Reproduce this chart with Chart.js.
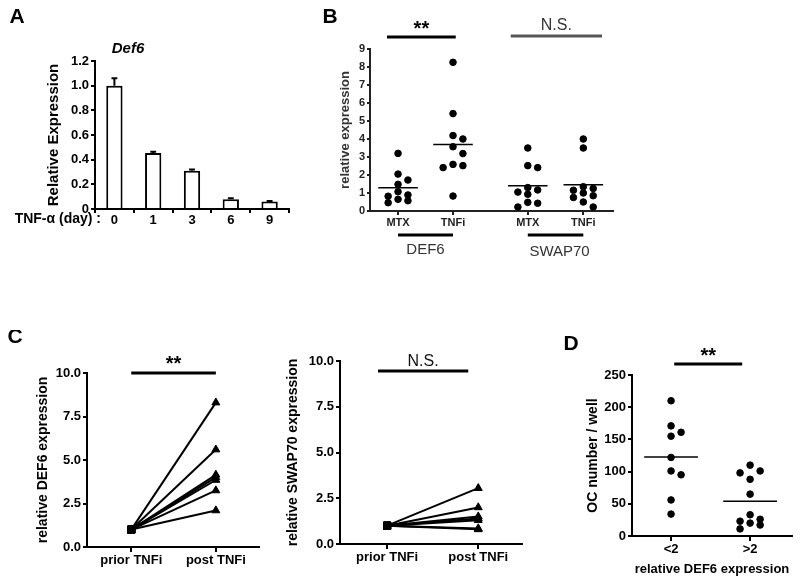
<!DOCTYPE html>
<html lang="en">
<head>
<meta charset="UTF-8">
<title>DEF6 figure</title>
<script src="https://cdn.jsdelivr.net/npm/chart.js"></script>
<style>
  body { margin: 0; background: #fff; }
  #wrap { position: relative; width: 800px; height: 583px; overflow: hidden; }
  canvas { position: absolute; }
</style>
</head>
<body>
<div id="wrap">
  <canvas id="chartA" width="300" height="240" style="left:0;top:0"></canvas>
  <canvas id="chartB" width="330" height="270" style="left:300px;top:0"></canvas>
  <canvas id="chartC1" width="265" height="253" style="left:0;top:330px"></canvas>
  <canvas id="chartC2" width="275" height="253" style="left:265px;top:330px"></canvas>
  <canvas id="chartD" width="240" height="253" style="left:560px;top:330px"></canvas>
</div>

<script>
  // ---- data ----
  // A: Def6 after TNF-alpha stimulation
  var days = ['0', '1', '3', '6', '9'];
  var def6Time = [1.0, 0.455, 0.31, 0.08, 0.06];
  var def6TimeErr = [0.06, 0.01, 0.01, 0.008, 0.004];

  // B: relative expression per patient
  var bGroups = ['MTX', 'TNFi', 'MTX', 'TNFi'];
  var def6Mtx = [3.2, 2.05, 1.72, 1.48, 1.07, 0.89, 0.82, 0.65, 0.57, 0.46];
  var def6Tnfi = [8.26, 5.41, 4.19, 4.0, 3.57, 3.19, 2.59, 2.52, 2.41, 0.83];
  var swap70Mtx = [3.5, 2.52, 2.41, 1.3, 1.17, 1.05, 0.93, 0.48, 0.43, 0.22];
  var swap70Tnfi = [4.0, 3.5, 1.35, 1.25, 1.15, 1.0, 0.85, 0.75, 0.5, 0.22];

  // C: paired prior / post TNFi
  var cLabels = ['prior TNFi', 'post TNFi'];
  var def6Prior = [1, 1, 1, 1, 1, 1, 1];
  var def6Post = [8.3, 5.6, 4.15, 4.0, 3.85, 3.25, 2.1];
  var swap70Prior = [1, 1, 1, 1, 1, 1, 1];
  var swap70Post = [3.05, 2.0, 1.5, 1.4, 1.3, 0.85, 0.8];

  // D: osteoclasts per well by DEF6 level
  var dLabels = ['<2', '>2'];
  var ocLow = [210, 171, 161, 155, 122, 101, 95, 56, 34];
  var ocHigh = [110, 101, 98, 88, 65, 33, 26, 23, 20, 17, 11];

  // ---- helpers ----
  var FAMILY = '"Liberation Sans", Arial, sans-serif';
  Chart.defaults.font.family = FAMILY;
  Chart.defaults.color = '#000';

  function mean(a) {
    return a.reduce(function (s, v) { return s + v; }, 0) / a.length;
  }

  // simple beeswarm: spread close values into side columns
  function swarm(values, center, step, minGap) {
    var order = values.map(function (v, i) { return i; })
      .sort(function (a, b) { return values[b] - values[a]; });
    var slots = [0, 1, -1];
    var placed = [];
    order.forEach(function (i) {
      var v = values[i], best = 0, bestGap = -1;
      for (var s = 0; s < slots.length; s++) {
        var gap = Infinity;
        placed.forEach(function (p) {
          if (p.slot === slots[s]) gap = Math.min(gap, Math.abs(p.y - v));
        });
        if (gap >= minGap) { best = slots[s]; break; }
        if (gap > bestGap) { bestGap = gap; best = slots[s]; }
      }
      placed.push({ slot: best, y: v });
    });
    return placed.map(function (p) { return { x: center + p.slot * step, y: p.y }; });
  }

  function dots(values, center, step, gap) {
    return {
      data: swarm(values, center, step, gap),
      pointRadius: 3.3, pointBackgroundColor: '#000', pointBorderColor: '#000',
      pointBorderWidth: 1, showLine: false
    };
  }

  function meanLine(values, center, half) {
    var m = mean(values);
    return {
      type: 'line', data: [{ x: center - half, y: m }, { x: center + half, y: m }],
      borderColor: '#000', borderWidth: 1.5, pointRadius: 0
    };
  }

  function font(size, weight, style) {
    return (style || '') + ' ' + (weight || 'normal') + ' ' + size + 'px ' + FAMILY;
  }

  function text(ctx, str, x, y, f, color, align) {
    ctx.save();
    ctx.font = f;
    ctx.fillStyle = color || '#000';
    ctx.textAlign = align || 'center';
    ctx.textBaseline = 'middle';
    ctx.fillText(str, x, y);
    ctx.restore();
  }

  function hline(ctx, x1, x2, y, w, color) {
    ctx.save();
    ctx.strokeStyle = color || '#000';
    ctx.lineWidth = w;
    ctx.beginPath();
    ctx.moveTo(x1, y);
    ctx.lineTo(x2, y);
    ctx.stroke();
    ctx.restore();
  }

  function extras(draw) {
    return {
      id: 'extras',
      afterDraw: function (chart) {
        draw(chart.ctx, chart.chartArea, chart.scales.x, chart.scales.y);
      }
    };
  }

  function base(pad) {
    return {
      responsive: false, animation: false, events: [],
      layout: { padding: pad },
      plugins: { legend: { display: false }, tooltip: { enabled: false } }
    };
  }

  function yAxis(min, max, step, width, title, titleSize, titlePad, opts) {
    opts = opts || {};
    return {
      min: min, max: max,
      border: { color: opts.color || '#000', width: 2 },
      grid: { drawOnChartArea: false, tickLength: opts.tick || 4, color: opts.color || '#000', lineWidth: 2 },
      ticks: {
        stepSize: step, padding: 2, color: opts.color || '#000',
        font: { size: opts.size || 13, weight: 'bold', lineHeight: 1 },
        callback: opts.format
      },
      title: {
        display: true, text: title, color: opts.titleColor || '#000',
        font: { size: titleSize, weight: 'bold' }, padding: { top: titlePad, bottom: 0 }
      },
      afterFit: function (s) { s.width = width; }
    };
  }

  function xLinear(min, max, pos, labels, height, size, opts) {
    opts = opts || {};
    return {
      type: 'linear', min: min, max: max,
      afterBuildTicks: function (s) { s.ticks = pos.map(function (v) { return { value: v }; }); },
      border: { color: opts.color || '#000', width: 2 },
      grid: { drawOnChartArea: false, tickLength: opts.tick || 5, color: opts.color || '#000', lineWidth: 2 },
      ticks: {
        padding: 2, color: opts.color || '#000',
        font: { size: size, weight: 'bold', lineHeight: 1 },
        callback: function (v, i) { return labels[i]; }
      },
      title: opts.title || { display: false },
      afterFit: function (s) { s.height = height; }
    };
  }

  // ---- A ----
  var errorBars = {
    id: 'errorBars',
    afterDatasetsDraw: function (chart) {
      var ctx = chart.ctx, y = chart.scales.y;
      chart.getDatasetMeta(0).data.forEach(function (bar, i) {
        var top = y.getPixelForValue(def6Time[i] + def6TimeErr[i]);
        var cap = bar.width * 0.18;
        ctx.save();
        ctx.strokeStyle = '#000';
        ctx.lineWidth = 2;
        ctx.beginPath();
        ctx.moveTo(bar.x, bar.y);
        ctx.lineTo(bar.x, top);
        ctx.moveTo(bar.x - cap, top);
        ctx.lineTo(bar.x + cap, top);
        ctx.stroke();
        ctx.restore();
      });
    }
  };

  var optA = base({ top: 61, right: 11, left: 0, bottom: 0 });
  optA.scales = {
    x: {
      border: { color: '#000', width: 2 },
      grid: { drawOnChartArea: false, tickLength: 4, color: '#000', lineWidth: 2 },
      ticks: { padding: 1, color: '#000', font: { size: 13, weight: 'bold', lineHeight: 1 } },
      afterFit: function (s) { s.height = 31; }
    },
    y: yAxis(0, 1.2, 0.2, 95, 'Relative Expression', 15, 45, {
      format: function (v) { return v === 0 ? '0' : v.toFixed(1); }
    })
  };

  new Chart(document.getElementById('chartA'), {
    type: 'bar',
    data: {
      labels: days,
      datasets: [{
        data: def6Time, backgroundColor: '#fff', borderColor: '#000', borderWidth: 2,
        categoryPercentage: 1, barPercentage: 0.42
      }]
    },
    options: optA,
    plugins: [errorBars, extras(function (ctx, area) {
      text(ctx, 'A', 17, 17, font(21, 'bold'));
      text(ctx, 'Def6', 128, 49, font(15, 'bold', 'italic'));
      text(ctx, 'TNF-\u03b1 (day) :', 101, area.bottom + 10, font(14, 'bold'), '#000', 'right');
    })]
  });

  // ---- B ----
  var bPos = [1, 2, 3.36, 4.37];
  var optB = base({ top: 49, right: 17, left: 0, bottom: 0 });
  optB.scales = {
    x: xLinear(0.49, 4.91, bPos, bGroups, 59, 11, { color: '#222', tick: 4 }),
    y: yAxis(0, 9, 1, 70, 'relative expression', 13, 38, {
      size: 11, color: '#222', titleColor: '#333', tick: 3
    })
  };

  new Chart(document.getElementById('chartB'), {
    type: 'scatter',
    data: {
      datasets: [
        dots(def6Mtx, bPos[0], 0.18, 0.4),
        dots(def6Tnfi, bPos[1], 0.18, 0.4),
        dots(swap70Mtx, bPos[2], 0.18, 0.4),
        dots(swap70Tnfi, bPos[3], 0.18, 0.4),
        meanLine(def6Mtx, bPos[0], 0.36),
        meanLine(def6Tnfi, bPos[1], 0.36),
        meanLine(swap70Mtx, bPos[2], 0.36),
        meanLine(swap70Tnfi, bPos[3], 0.36)
      ]
    },
    options: optB,
    plugins: [extras(function (ctx, area, x) {
      text(ctx, 'B', 30, 17, font(21, 'bold'));
      hline(ctx, x.getPixelForValue(0.8), x.getPixelForValue(2.05), area.top - 12, 3, '#000');
      text(ctx, '**', (x.getPixelForValue(0.8) + x.getPixelForValue(2.05)) / 2, area.top - 20, font(20, 'bold'));
      hline(ctx, x.getPixelForValue(3.05), x.getPixelForValue(4.71), area.top - 13, 3, '#555');
      text(ctx, 'N.S.', (x.getPixelForValue(3.05) + x.getPixelForValue(4.71)) / 2, area.top - 23, font(16), '#333');
      hline(ctx, x.getPixelForValue(bPos[0]), x.getPixelForValue(bPos[1]), area.bottom + 24, 3, '#000');
      text(ctx, 'DEF6', (x.getPixelForValue(bPos[0]) + x.getPixelForValue(bPos[1])) / 2, area.bottom + 39, font(15), '#333');
      hline(ctx, x.getPixelForValue(bPos[2]), x.getPixelForValue(bPos[3]), area.bottom + 24, 3, '#000');
      text(ctx, 'SWAP70', (x.getPixelForValue(bPos[2]) + x.getPixelForValue(bPos[3])) / 2 + 4, area.bottom + 41, font(15), '#333');
    })]
  });

  // ---- C ----
  function pairs(prior, post) {
    return prior.map(function (p, i) {
      return {
        data: [{ x: 1, y: p }, { x: 2, y: post[i] }],
        showLine: true, borderColor: '#000', borderWidth: 2,
        pointStyle: ['rect', 'triangle'], pointRadius: [5, 4.6],
        pointBackgroundColor: '#000', pointBorderColor: '#000', pointBorderWidth: 1
      };
    });
  }

  var fmt1 = function (v) { return v.toFixed(1); };

  var optC1 = base({ top: 43, right: 3, left: 0, bottom: 0 });
  optC1.scales = {
    x: xLinear(0.477, 2.51, [1, 2], cLabels, 36, 13),
    y: yAxis(0, 10, 2.5, 87, 'relative DEF6 expression', 14, 34.5, { format: fmt1 })
  };
  new Chart(document.getElementById('chartC1'), {
    type: 'scatter',
    data: { datasets: pairs(def6Prior, def6Post) },
    options: optC1,
    plugins: [extras(function (ctx, area, x) {
      text(ctx, 'C', 15, 7, font(21, 'bold'));
      hline(ctx, x.getPixelForValue(1), x.getPixelForValue(2), area.top, 3, '#000');
      text(ctx, '**', (x.getPixelForValue(1) + x.getPixelForValue(2)) / 2, area.top - 9, font(20, 'bold'));
    })]
  });

  var optC2 = base({ top: 31, right: 18, left: 0, bottom: 0 });
  optC2.scales = {
    x: xLinear(0.483, 2.48, [1, 2], cLabels, 39, 13),
    y: yAxis(0, 10, 2.5, 75, 'relative SWAP70 expression', 14, 19.5, { format: fmt1 })
  };
  new Chart(document.getElementById('chartC2'), {
    type: 'scatter',
    data: { datasets: pairs(swap70Prior, swap70Post) },
    options: optC2,
    plugins: [extras(function (ctx, area, x) {
      hline(ctx, x.getPixelForValue(0.9), x.getPixelForValue(1.89), area.top + 10, 3, '#000');
      text(ctx, 'N.S.', (x.getPixelForValue(0.9) + x.getPixelForValue(1.89)) / 2, area.top + 1, font(16), '#111');
    })]
  });

  // ---- D ----
  var optD = base({ top: 45, right: 8, left: 0, bottom: 0 });
  optD.scales = {
    x: xLinear(0.506, 2.53, [1, 2], dLabels, 47, 13, {
      title: {
        display: true, text: 'relative DEF6 expression', color: '#000',
        font: { size: 13, weight: 'bold' }, padding: { top: 0, bottom: 6 }
      }
    }),
    y: yAxis(0, 250, 50, 72, 'OC number / well', 14, 24.5)
  };
  new Chart(document.getElementById('chartD'), {
    type: 'scatter',
    data: {
      datasets: [
        dots(ocLow, 1, 0.127, 13),
        dots(ocHigh, 2, 0.127, 13),
        meanLine(ocLow, 1, 0.34),
        meanLine(ocHigh, 2, 0.34)
      ]
    },
    options: optD,
    plugins: [extras(function (ctx, area, x) {
      text(ctx, 'D', 11, 14, font(21, 'bold'));
      hline(ctx, x.getPixelForValue(1.04), x.getPixelForValue(1.9), area.top - 11, 3, '#000');
      text(ctx, '**', (x.getPixelForValue(1.04) + x.getPixelForValue(1.9)) / 2, area.top - 19, font(20, 'bold'));
    })]
  });
</script>
</body>
</html>
